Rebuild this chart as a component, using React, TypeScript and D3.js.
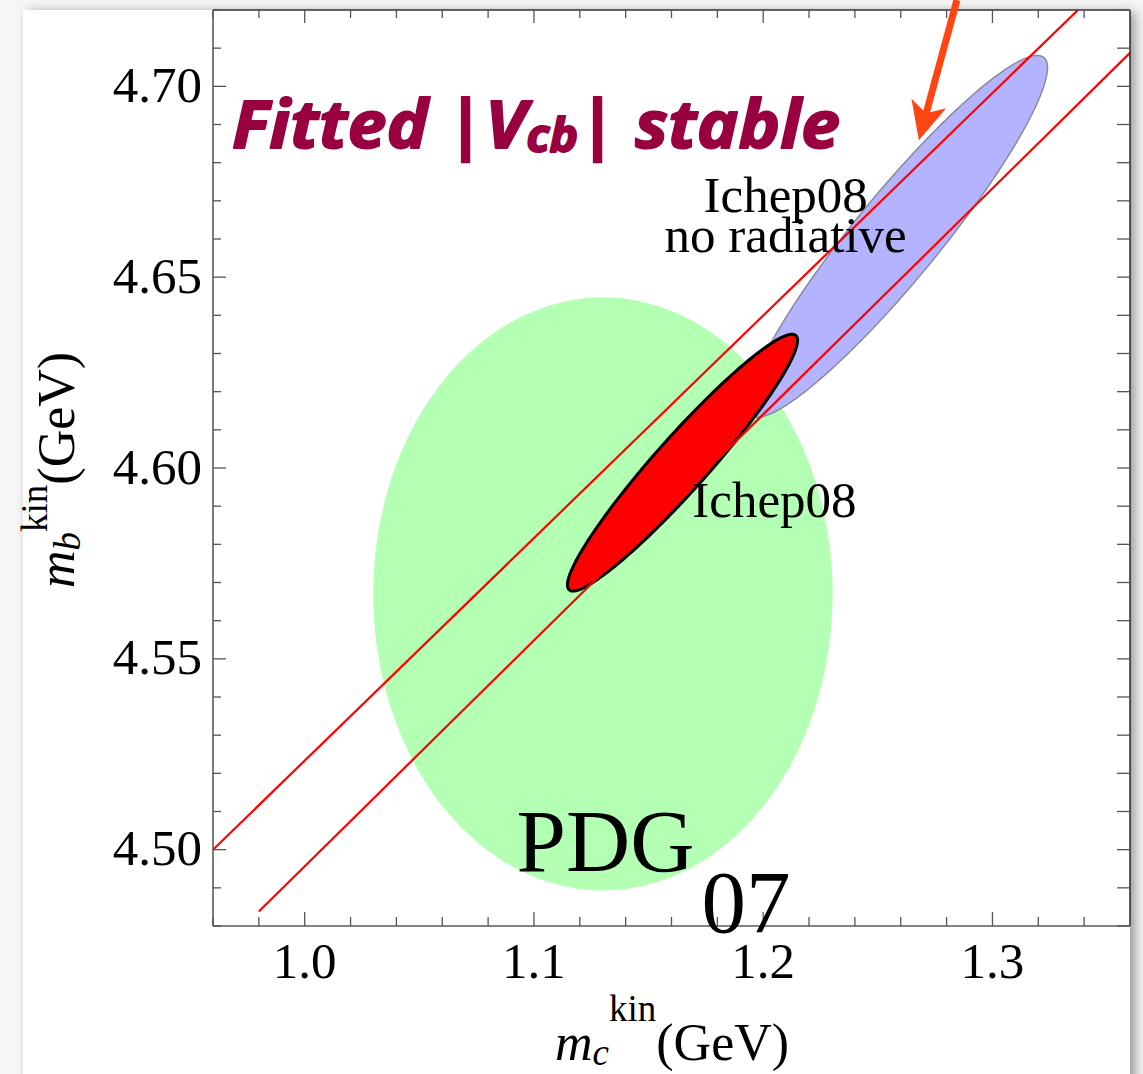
import React, { useLayoutEffect, useRef, useState } from 'react';
import * as d3 from 'd3';

// ---------- data ----------
const xDomain = [0.96, 1.36];
const yDomain = [4.48, 4.72];
const xMajorTicks = [1.0, 1.1, 1.2, 1.3];
const xTickLabels = ['1.0', '1.1', '1.2', '1.3'];
const yMajorTicks = [4.5, 4.55, 4.6, 4.65, 4.7];
const yTickLabels = ['4.50', '4.55', '4.60', '4.65', '4.70'];
const xMinorStep = 0.02;
const yMinorStep = 0.01;

// confidence regions (centre, half extents, correlation)
const regionNames = ['PDG07', 'Ichep08 no radiative', 'Ichep08'];
const regionMc = [1.1301, 1.2585, 1.1648];
const regionMb = [4.567, 4.6607, 4.6014];
const regionSigMc = [0.1002, 0.0655, 0.0502];
const regionSigMb = [0.0777, 0.0474, 0.03364];
const regionRho = [0, 0.932, 0.952];
const regionFill = ['#b3ffb3', '#b3b3ff', '#ff0000'];
const regionStroke = ['none', '#8a8a9a', '#000000'];
const regionStrokeW = [0, 1.5, 3];

// fixed-|Vcb| band edges
const bandUpperMc = [0.96, 1.3373];
const bandUpperMb = [4.5, 4.72];
const bandLowerMc = [0.98, 1.3604];
const bandLowerMb = [4.4838, 4.709];

// annotation arrow (tail, tip) in data units
const arrowMc = [1.2845, 1.2679];
const arrowMb = [4.7226, 4.6859];

const W = 1143;
const H = 1074;
const plotL = 213, plotR = 1130, plotT = 10, plotB = 926;
const titleWidth = 608;

export default function App() {
  const titleRef = useRef<SVGTextElement | null>(null);
  const [titleScale, setTitleScale] = useState(1);
  useLayoutEffect(() => {
    if (titleRef.current) {
      const bb = titleRef.current.getBBox();
      if (bb.width > 0) setTitleScale(titleWidth / bb.width);
    }
  }, []);

  const x = d3.scaleLinear().domain(xDomain).range([plotL, plotR]);
  const y = d3.scaleLinear().domain(yDomain).range([plotB, plotT]);

  const xMinor = d3.range(xDomain[0], xDomain[1] + 1e-9, xMinorStep).filter(
    (v) => !xMajorTicks.some((m) => Math.abs(m - v) < 1e-6)
  );
  const yMinor = d3.range(yDomain[0], yDomain[1] + 1e-9, yMinorStep).filter(
    (v) => !yMajorTicks.some((m) => Math.abs(m - v) < 1e-6)
  );

  const ts = d3.range(0, 361, 2).map((d) => (d * Math.PI) / 180);
  const line = d3.line<[number, number]>().x((d) => x(d[0])).y((d) => y(d[1]));
  const closed = d3
    .line<[number, number]>()
    .x((d) => x(d[0]))
    .y((d) => y(d[1]))
    .curve(d3.curveLinearClosed);

  const ellipses = regionNames.map((name, i) => {
    const pts: [number, number][] = ts.map((t) => [
      regionMc[i] + regionSigMc[i] * Math.cos(t),
      regionMb[i] +
        regionSigMb[i] *
          (regionRho[i] * Math.cos(t) + Math.sqrt(1 - regionRho[i] ** 2) * Math.sin(t)),
    ]);
    return { name, d: closed(pts) || '', i };
  });

  const upper = line(bandUpperMc.map((v, i) => [v, bandUpperMb[i]] as [number, number])) || '';
  const lower = line(bandLowerMc.map((v, i) => [v, bandLowerMb[i]] as [number, number])) || '';

  const ax = x(arrowMc[0]), ay = y(arrowMb[0]);
  const tx = x(arrowMc[1]), ty = y(arrowMb[1]);
  const ang = Math.atan2(ty - ay, tx - ax);
  const headLen = 38, headW = 18;
  const bx = tx - headLen * Math.cos(ang), by = ty - headLen * Math.sin(ang);
  const w1x = bx + headW * Math.cos(ang + Math.PI / 2), w1y = by + headW * Math.sin(ang + Math.PI / 2);
  const w2x = bx - headW * Math.cos(ang + Math.PI / 2), w2y = by - headW * Math.sin(ang + Math.PI / 2);
  const nx = tx - (headLen - 10) * Math.cos(ang), ny = ty - (headLen - 10) * Math.sin(ang);

  const serif = "'Liberation Serif', 'Times New Roman', serif";
  const tickFont = 51;
  const titleX = x(0.9683);
  const titleY = y(4.6838);

  return (
    <svg
      width={W}
      height={H}
      style={{ position: 'absolute', left: 0, top: 0, display: 'block' }}
      xmlns="http://www.w3.org/2000/svg"
    >
      <defs>
        <clipPath id="plotClip">
          <rect x={plotL} y={plotT} width={plotR - plotL} height={plotB - plotT} />
        </clipPath>
        <filter id="pageShadow" x="-5%" y="-5%" width="110%" height="110%">
          <feDropShadow dx="5" dy="2" stdDeviation="6" floodColor="#000" floodOpacity="0.4" />
        </filter>
      </defs>
      <rect x={0} y={0} width={W} height={H} fill="#f6f6f6" />
      <rect x={23} y={10} width={plotR - 23} height={H + 40} fill="#ffffff" filter="url(#pageShadow)" />

      <g clipPath="url(#plotClip)">
        {ellipses.map((e) => (
          <path
            key={e.name}
            d={e.d}
            fill={regionFill[e.i]}
            stroke={regionStroke[e.i]}
            strokeWidth={regionStrokeW[e.i]}
            strokeLinejoin="round"
          />
        ))}
        <path d={upper} stroke="#ff0000" strokeWidth={2.2} fill="none" />
        <path d={lower} stroke="#ff0000" strokeWidth={2.2} fill="none" />
      </g>

      {/* frame */}
      <g stroke="#5a5a5a" strokeWidth={1.6} fill="none">
        <line x1={plotL} y1={plotB} x2={plotR} y2={plotB} />
        <line x1={plotL} y1={plotT} x2={plotL} y2={plotB} />
        <line x1={plotL} y1={plotT} x2={plotR} y2={plotT} stroke="#333" />
        <line x1={plotR} y1={plotT} x2={plotR} y2={plotB} stroke="#333" />
      </g>
      <g stroke="#555" strokeWidth={1.3}>
        {xMajorTicks.map((v) => (
          <g key={'xM' + v}>
            <line x1={x(v)} x2={x(v)} y1={plotB} y2={plotB - 14} />
            <line x1={x(v)} x2={x(v)} y1={plotT} y2={plotT + 13} />
          </g>
        ))}
        {xMinor.map((v) => (
          <g key={'xm' + v}>
            <line x1={x(v)} x2={x(v)} y1={plotB} y2={plotB - 9} />
            <line x1={x(v)} x2={x(v)} y1={plotT} y2={plotT + 8} />
          </g>
        ))}
        {yMajorTicks.map((v) => (
          <g key={'yM' + v}>
            <line x1={plotL} x2={plotL + 13} y1={y(v)} y2={y(v)} />
            <line x1={plotR} x2={plotR - 13} y1={y(v)} y2={y(v)} />
          </g>
        ))}
        {yMinor.map((v) => (
          <g key={'ym' + v}>
            <line x1={plotL} x2={plotL + 8} y1={y(v)} y2={y(v)} />
            <line x1={plotR} x2={plotR - 13} y1={y(v)} y2={y(v)} />
          </g>
        ))}
      </g>

      {/* tick labels */}
      <g fontFamily={serif} fontSize={tickFont} fill="#000">
        {xMajorTicks.map((v, i) => (
          <text key={'xl' + v} x={x(v)} y={plotB + 52} textAnchor="middle">
            {xTickLabels[i]}
          </text>
        ))}
        {yMajorTicks.map((v, i) => (
          <text key={'yl' + v} x={plotL - 11} y={y(v) + 15.5} textAnchor="end">
            {yTickLabels[i]}
          </text>
        ))}
      </g>

      {/* axis titles */}
      <text x={555} y={1060} fontFamily={serif} fontSize={52} fill="#000">
        <tspan fontStyle="italic">m</tspan>
        <tspan fontStyle="italic" fontSize={37} dy={5}>c</tspan>
        <tspan fontSize={37} dy={-44}>kin</tspan>
        <tspan dy={39}>(GeV)</tspan>
      </text>
      <text
        transform={`translate(74,588) rotate(-90)`}
        fontFamily={serif}
        fontSize={52}
        fill="#000"
      >
        <tspan fontStyle="italic">m</tspan>
        <tspan fontStyle="italic" fontSize={37} dy={6}>b</tspan>
        <tspan fontSize={37} dy={-33}>kin</tspan>
        <tspan dy={27}>(GeV)</tspan>
      </text>

      {/* region labels */}
      <g fontFamily={serif} fill="#000">
        <text x={x(1.2098)} y={y(4.6671)} fontSize={51} textAnchor="middle">Ichep08</text>
        <text x={x(1.2098)} y={y(4.6566)} fontSize={51} textAnchor="middle">no radiative</text>
        <text x={x(1.1691)} y={y(4.5871)} fontSize={51}>Ichep08</text>
        <text x={x(1.0924)} y={y(4.4943)} fontSize={89}>PDG</text>
        <text x={x(1.1731)} y={y(4.4783)} fontSize={89}>07</text>
      </g>

      {/* headline */}
      <g transform={`translate(${titleX},${titleY}) scale(${titleScale},1)`}>
        <text
          ref={titleRef}
          x={0}
          y={0}
          fontFamily="'Open Sans', Lato, sans-serif"
          fontWeight={700}
          fontStyle="italic"
          fontSize={67}
          fill="#990040"
          stroke="#990040"
          strokeWidth={1.8}
          strokeLinejoin="round"
        >
          <tspan>Fitted |V</tspan>
          <tspan fontSize={46} dy={4}>cb</tspan>
          <tspan dy={-4}>| stable</tspan>
        </text>
      </g>

      {/* arrow */}
      <g>
        <line x1={ax} y1={ay} x2={nx} y2={ny} stroke="#ff4512" strokeWidth={7} />
        <path d={`M${tx},${ty} L${w1x},${w1y} L${nx},${ny} L${w2x},${w2y} Z`} fill="#ff4512" />
      </g>
    </svg>
  );
}
